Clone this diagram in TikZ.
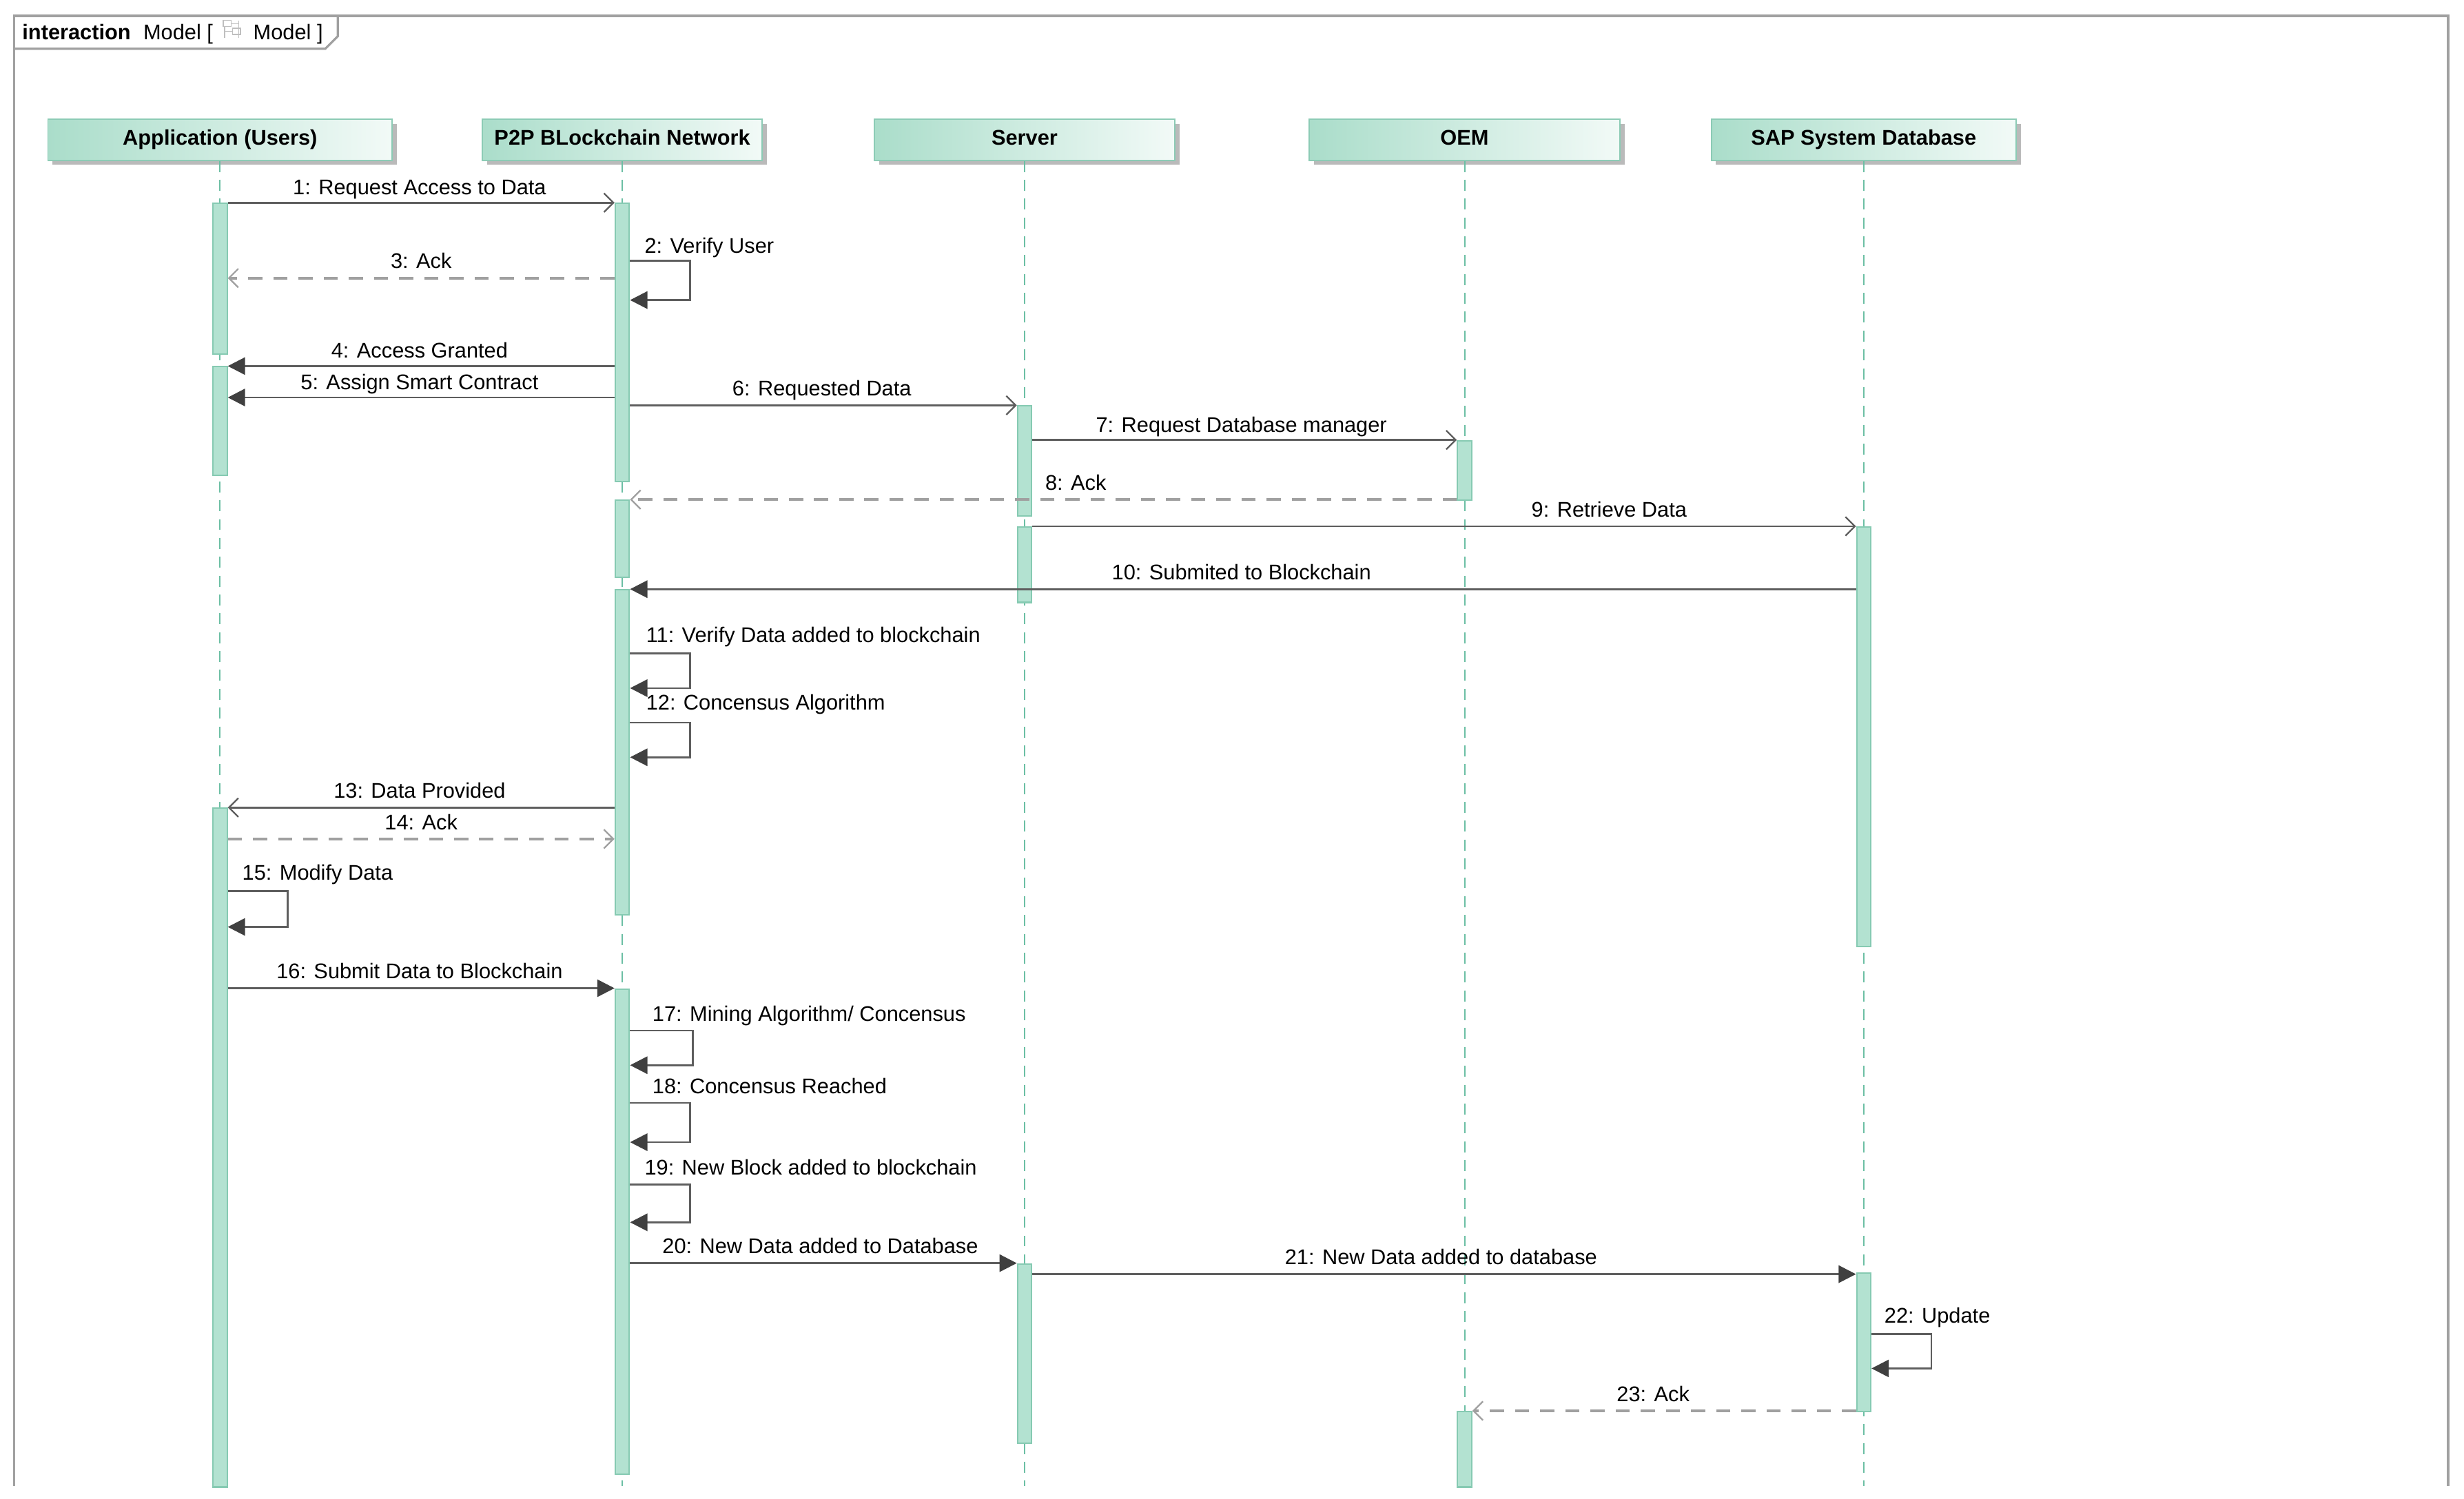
\documentclass[tikz,border=0pt]{standalone}
\usepackage{fontspec}
\setmainfont{Liberation Sans}
\usetikzlibrary{arrows.meta,shadows}
\definecolor{lifec}{HTML}{6CBFA4}
\definecolor{barfill}{HTML}{B3E2D1}
\definecolor{bardraw}{HTML}{86CAB2}
\definecolor{hdrL}{HTML}{AADDCA}
\definecolor{hdrR}{HTML}{F2FAF7}
\definecolor{hdrdraw}{HTML}{8CCBB5}
\definecolor{msgc}{HTML}{5E5E5E}
\definecolor{retc}{HTML}{A0A0A0}
\definecolor{framec}{HTML}{A0A0A0}
\definecolor{tipc}{HTML}{404040}
\newcommand\lblfont{\fontsize{13.5}{16}\selectfont}
\begin{document}
\begin{tikzpicture}[x=1pt,y=-1pt,
  every node/.style={font=\lblfont},
  hdr/.style={rectangle, draw=hdrdraw, line width=0.8pt, left color=hdrL, right color=hdrR,
    minimum height=26, inner sep=0, text height=10pt, text depth=3pt, font=\lblfont\bfseries,
    drop shadow={shadow xshift=3pt, shadow yshift=-3pt, fill=black!45, opacity=0.6}},
  life/.style={draw=lifec, line width=0.9pt, dash pattern=on 7pt off 5pt},
  actbar/.style={rectangle, fill=barfill, draw=bardraw, line width=0.9pt, minimum width=9, inner sep=0, anchor=north},
  msg/.style={draw=msgc, line width=1.2pt},
  ret/.style={draw=retc, line width=1.8pt, dash pattern=on 9pt off 7pt},
  opentip/.style={-{Straight Barb[length=6pt,width=12pt,line width=1pt]}},
  filltip/.style={-{Triangle[length=11pt,width=11pt,color=tipc]}},
  lbl/.style={anchor=base, inner sep=0},
  lbll/.style={anchor=base west, inner sep=0}]
\useasboundingbox (0,0) rectangle (1568,954);
\fill[white] (0,0) rectangle (1568,954);

% frame
\draw[framec, line width=1.6pt] (9,946) -- (9,10) -- (1558,10) -- (1558,946);
\draw[framec, line width=1.4pt] (9,31) -- (207,31) -- (215,23) -- (215,10);
\node[lbll] (flbl1) at (14,25) {\textbf{interaction}\hspace{8pt}Model [};
\node[lbll] (flbl2) at (161,25) {Model ]};
\draw[black!25, line width=0.6pt] (142,13) rectangle (147,17) (147,15) -- (152,15) (152,13) -- (152,24) (143,17) -- (143,24) (143,20) -- (148,20) (148,18) rectangle (153,22);

% headers
\node[hdr, minimum width=219] (hA) at (140,89) {Application (Users)};
\node[hdr, minimum width=178] (hP) at (396,89) {P2P BLockchain Network};
\node[hdr, minimum width=191] (hS) at (652,89) {Server};
\node[hdr, minimum width=198] (hO) at (932,89) {OEM};
\node[hdr, minimum width=194] (hD) at (1186,89) {SAP System Database};

% lifelines
\draw[life] (hA.south) -- (hA.south |- 0,946);
\draw[life] (hP.south) -- (hP.south |- 0,946);
\draw[life] (hS.south) -- (hS.south |- 0,946);
\draw[life] (hO.south) -- (hO.south |- 0,946);
\draw[life] (hD.south) -- (hD.south |- 0,946);

% activation bars
\node[actbar, minimum height=96] (A1) at (140,129) {};
\node[actbar, minimum height=69] (A2) at (140,233) {};
\node[actbar, minimum height=432] (A3) at (140,514) {};
\node[actbar, minimum height=177] (P1) at (396,129) {};
\node[actbar, minimum height=49] (P2) at (396,318) {};
\node[actbar, minimum height=207] (P3) at (396,375) {};
\node[actbar, minimum height=309] (P4) at (396,629) {};
\node[actbar, minimum height=70] (S1) at (652,258) {};
\node[actbar, minimum height=48] (S2) at (652,335) {};
\node[actbar, minimum height=114] (S3) at (652,804) {};
\node[actbar, minimum height=38] (O1) at (932,280) {};
\node[actbar, minimum height=48] (O2) at (932,898) {};
\node[actbar, minimum height=267] (D1) at (1186,335) {};
\node[actbar, minimum height=88] (D2) at (1186,810) {};

% messages
\draw[msg, opentip] (A1.east |- 0,129) -- (P1.west |- 0,129);
\node[lbl] (t1) at (267,124) {1: Request Access to Data};

\draw[msg, filltip] (P1.east |- 0,166) -| (439,191) -- (P1.east |- 0,191);
\node[lbll] (t2) at (410,161) {2: Verify User};

\draw[ret, opentip] (P1.west |- 0,177) -- (A1.east |- 0,177);
\node[lbl] (t3) at (268,171) {3: Ack};

\draw[msg, filltip] (P1.west |- 0,233) -- (A2.east |- 0,233);
\node[lbl] (t4) at (267,228) {4: Access Granted};

\draw[msg, filltip] (P1.west |- 0,253) -- (A2.east |- 0,253);
\node[lbl] (t5) at (267,248) {5: Assign Smart Contract};

\draw[msg, opentip] (P1.east |- 0,258) -- (S1.west |- 0,258);
\node[lbl] (t6) at (523,252) {6: Requested Data};

\draw[msg, opentip] (S1.east |- 0,280) -- (O1.west |- 0,280);
\node[lbl] (t7) at (790,275) {7: Request Database manager};

\draw[ret, opentip] (O1.west |- 0,318) -- (P2.east |- 0,318);
\node[lbll] (t8) at (665,312) {8: Ack};

\draw[msg, opentip] (S2.east |- 0,335) -- (D1.west |- 0,335);
\node[lbl] (t9) at (1024,329) {9: Retrieve Data};

\draw[msg, filltip] (D1.west |- 0,375) -- (P3.east |- 0,375);
\node[lbl] (t10) at (790,369) {10: Submited to Blockchain};

\draw[msg, filltip] (P3.east |- 0,416) -| (439,438) -- (P3.east |- 0,438);
\node[lbll] (t11) at (411,409) {11: Verify Data added to blockchain};

\draw[msg, filltip] (P3.east |- 0,460) -| (439,482) -- (P3.east |- 0,482);
\node[lbll] (t12) at (411,452) {12: Concensus Algorithm};

\draw[msg, opentip] (P3.west |- 0,514) -- (A3.east |- 0,514);
\node[lbl] (t13) at (267,508) {13: Data Provided};

\draw[ret, opentip] (A3.east |- 0,534) -- (P3.west |- 0,534);
\node[lbl] (t14) at (268,528) {14: Ack};

\draw[msg, filltip] (A3.east |- 0,567) -| (183,590) -- (A3.east |- 0,590);
\node[lbll] (t15) at (154,560) {15: Modify Data};

\draw[msg, filltip] (A3.east |- 0,629) -- (P4.west |- 0,629);
\node[lbl] (t16) at (267,623) {16: Submit Data to Blockchain};

\draw[msg, filltip] (P4.east |- 0,656) -| (441,678) -- (P4.east |- 0,678);
\node[lbll] (t17) at (415,650) {17: Mining Algorithm/ Concensus};

\draw[msg, filltip] (P4.east |- 0,702) -| (439,727) -- (P4.east |- 0,727);
\node[lbll] (t18) at (415,696) {18: Concensus Reached};

\draw[msg, filltip] (P4.east |- 0,754) -| (439,778) -- (P4.east |- 0,778);
\node[lbll] (t19) at (410,748) {19: New Block added to blockchain};

\draw[msg, filltip] (P4.east |- 0,804) -- (S3.west |- 0,804);
\node[lbl] (t20) at (522,798) {20: New Data added to Database};

\draw[msg, filltip] (S3.east |- 0,811) -- (D2.west |- 0,811);
\node[lbl] (t21) at (917,805) {21: New Data added to database};

\draw[msg, filltip] (D2.east |- 0,849) -| (1229,871) -- (D2.east |- 0,871);
\node[lbll] (t22) at (1199,842) {22: Update};

\draw[ret, opentip] (D2.west |- 0,898) -- (O2.east |- 0,898);
\node[lbl] (t23) at (1052,892) {23: Ack};
\end{tikzpicture}
\end{document}
